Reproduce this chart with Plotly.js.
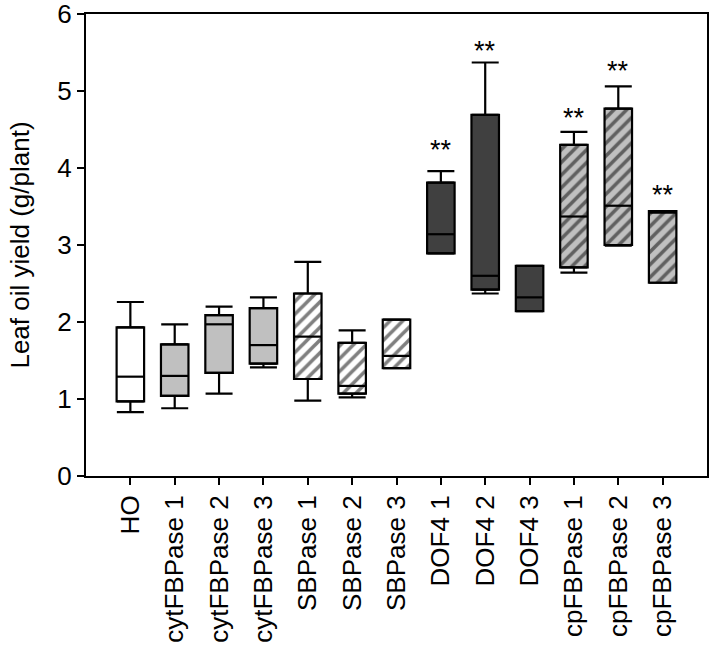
<!DOCTYPE html>
<html>
<head>
<meta charset="utf-8">
<script src="https://cdn.plot.ly/plotly-3.0.1.min.js"></script>
<style>html,body{margin:0;padding:0;background:#fff;}#chart{width:709px;height:651px;}</style>
</head>
<body>
<div id="chart"></div>
<script>
// ---- data ----
var categories = ['HO','cytFBPase 1','cytFBPase 2','cytFBPase 3','SBPase 1','SBPase 2','SBPase 3',
                  'DOF4 1','DOF4 2','DOF4 3','cpFBPase 1','cpFBPase 2','cpFBPase 3'];
var lowerWhisker = [0.83, 0.88, 1.07, 1.41, 0.98, 1.02, 1.40, 2.89, 2.37, 2.14, 2.64, 2.99, 2.51];
var q1Values     = [0.97, 1.04, 1.34, 1.46, 1.26, 1.07, 1.40, 2.89, 2.42, 2.14, 2.71, 3.00, 2.51];
var medianValues = [1.29, 1.30, 1.97, 1.70, 1.81, 1.17, 1.56, 3.14, 2.60, 2.32, 3.37, 3.51, 3.42];
var q3Values     = [1.93, 1.71, 2.09, 2.18, 2.37, 1.73, 2.03, 3.81, 4.69, 2.73, 4.30, 4.77, 3.44];
var upperWhisker = [2.26, 1.97, 2.20, 2.32, 2.78, 1.89, 2.03, 3.96, 5.37, 2.73, 4.47, 5.06, 3.44];
var significance = ['', '', '', '', '', '', '', '**', '**', '', '**', '**', '**'];
var significanceY = [null, null, null, null, null, null, null, 4.30, 5.58, null, 4.71, 5.32, 3.71];
var groupStyle   = ['plain', 'gray', 'gray', 'gray', 'hatchWhite', 'hatchWhite', 'hatchWhite',
                    'dark', 'dark', 'dark', 'hatchGray', 'hatchGray', 'hatchGray'];
var yTickValues  = [0, 1, 2, 3, 4, 5, 6];

// ---- styles ----
var styles = {
  plain:      {color: '#ffffff', hatch: ''},
  gray:       {color: '#c0c0c0', hatch: ''},
  hatchWhite: {color: '#ffffff', hatch: '/'},
  dark:       {color: '#404040', hatch: ''},
  hatchGray:  {color: '#c0c0c0', hatch: '/'}
};

var FONT = 'Liberation Sans, Arial, Helvetica, sans-serif';

var traces = [];
Object.keys(styles).forEach(function(key){
  var st = styles[key];
  var xs = [], hs = [], bs = [];
  categories.forEach(function(c, i){
    if (groupStyle[i] === key) {
      xs.push(c); hs.push(q3Values[i] - q1Values[i]); bs.push(q1Values[i]);
    }
  });
  var marker = {color: st.color, line: {color: '#000', width: 2.2}};
  if (st.hatch) {
    marker.pattern = {shape: st.hatch, fillmode: 'overlay', fgcolor: '#000', bgcolor: st.color, size: 9, solidity: 0.4};
  }
  traces.push({type: 'bar', x: xs, y: hs, base: bs, width: 0.62, marker: marker,
               hoverinfo: 'skip', showlegend: false});
});

var upperLen = upperWhisker.map(function(v, i){ return v - q3Values[i]; });
var lowerLen = q1Values.map(function(v, i){ return v - lowerWhisker[i]; });
var zeros = categories.map(function(){ return 0; });

traces.push({
  type: 'scatter', mode: 'markers', x: categories, y: q3Values,
  marker: {size: 1, color: 'rgba(0,0,0,0)'},
  error_y: {type: 'data', symmetric: false, array: upperLen, arrayminus: zeros, width: 13.5, thickness: 2.2, color: '#000'},
  hoverinfo: 'skip', showlegend: false
});
traces.push({
  type: 'scatter', mode: 'markers', x: categories, y: q1Values,
  marker: {size: 1, color: 'rgba(0,0,0,0)'},
  error_y: {type: 'data', symmetric: false, array: zeros, arrayminus: lowerLen, width: 13.5, thickness: 2.2, color: '#000'},
  hoverinfo: 'skip', showlegend: false
});
traces.push({
  type: 'scatter', mode: 'markers', x: categories, y: medianValues,
  marker: {symbol: 'line-ew', size: 19.5, color: '#000', line: {color: '#000', width: 2.2}},
  hoverinfo: 'skip', showlegend: false
});

var annotations = [];
categories.forEach(function(c, i){
  if (significance[i]) {
    annotations.push({
      x: c, y: significanceY[i], xref: 'x', yref: 'y',
      text: significance[i], showarrow: false,
      yanchor: 'middle', yshift: -5,
      font: {family: FONT, size: 27, color: '#000'}
    });
  }
});

var layout = {
  width: 709, height: 651,
  margin: {l: 86, r: 2, t: 14, b: 175},
  paper_bgcolor: '#fff', plot_bgcolor: '#fff',
  font: {family: FONT, size: 26, color: '#000'},
  showlegend: false,
  barmode: 'overlay',
  xaxis: {
    type: 'category', categoryorder: 'array', categoryarray: categories, range: [-1, 13],
    tickangle: -90, ticks: 'outside', ticklen: 7, tickwidth: 2, tickcolor: '#000',
    showline: true, linewidth: 2, linecolor: '#000', mirror: true,
    showgrid: false, zeroline: false,
    tickfont: {family: FONT, size: 26, color: '#000'}
  },
  yaxis: {
    range: [0, 6], tickvals: yTickValues, ticktext: yTickValues.map(String),
    ticks: 'outside', ticklen: 7, tickwidth: 2, tickcolor: '#000',
    ticklabeloverflow: 'allow',
    showline: true, linewidth: 2, linecolor: '#000', mirror: true,
    showgrid: false, zeroline: false,
    tickfont: {family: FONT, size: 26, color: '#000'},
    title: {text: 'Leaf oil yield (g/plant)', font: {family: FONT, size: 26, color: '#000'}, standoff: 20}
  },
  annotations: annotations
};

Plotly.newPlot('chart', traces, layout, {displayModeBar: false, staticPlot: true});
</script>
</body>
</html>
